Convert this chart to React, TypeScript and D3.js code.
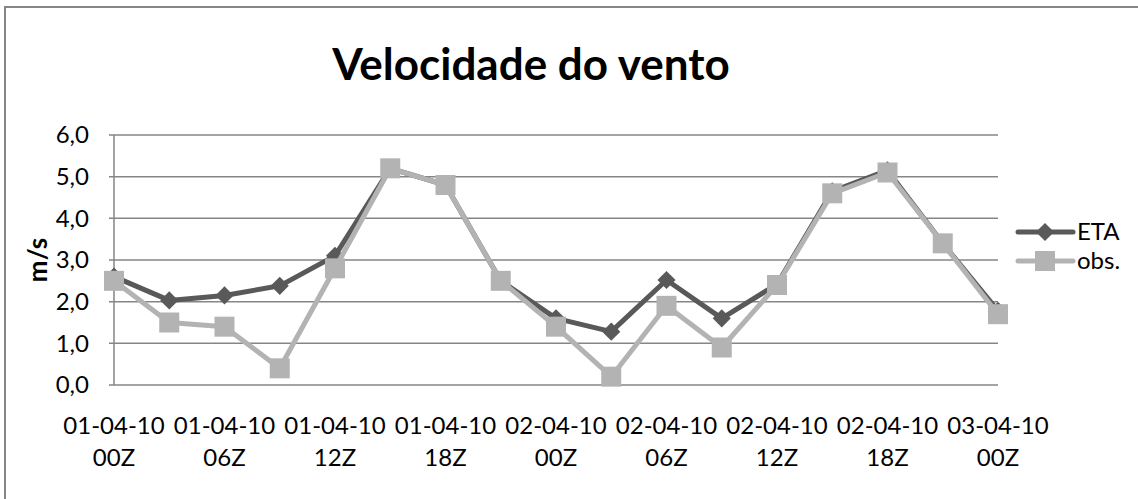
import React, { useEffect, useRef } from 'react';
import * as d3 from 'd3';

const categories = [
  '01-04-10 00Z', '01-04-10 03Z', '01-04-10 06Z', '01-04-10 09Z', '01-04-10 12Z',
  '01-04-10 15Z', '01-04-10 18Z', '01-04-10 21Z', '02-04-10 00Z', '02-04-10 03Z',
  '02-04-10 06Z', '02-04-10 09Z', '02-04-10 12Z', '02-04-10 15Z', '02-04-10 18Z',
  '02-04-10 21Z', '03-04-10 00Z',
];
const eta = [2.6, 2.03, 2.15, 2.38, 3.1, 5.2, 4.8, 2.5, 1.6, 1.28, 2.52, 1.6, 2.42, 4.65, 5.15, 3.4, 1.78];
const obs = [2.5, 1.5, 1.4, 0.4, 2.8, 5.2, 4.8, 2.5, 1.4, 0.2, 1.9, 0.9, 2.4, 4.6, 5.1, 3.4, 1.7];
const yTicks = [0, 1, 2, 3, 4, 5, 6];

const FONT = 'Lato, Carlito, Calibri, sans-serif';

const App = () => {
  const ref = useRef<SVGSVGElement>(null);

  useEffect(() => {
    const svg = d3.select(ref.current);
    svg.selectAll('*').remove();

    const left = 114,
      right = 998,
      top = 135,
      bottom = 385;

    const x = d3.scalePoint<string>().domain(categories).range([left, right]);
    const y = d3.scaleLinear().domain([0, 6]).range([bottom, top]);

    // chart frame
    svg
      .append('rect')
      .attr('x', 5)
      .attr('y', 7)
      .attr('width', 1160)
      .attr('height', 520)
      .attr('fill', 'white')
      .attr('stroke', '#868686')
      .attr('stroke-width', 2);

    // title
    svg
      .append('text')
      .attr('x', 531)
      .attr('y', 80)
      .attr('text-anchor', 'middle')
      .style('font-family', FONT)
      .style('font-weight', 'bold')
      .style('font-size', '44px')
      .text('Velocidade do vento');

    // gridlines
    svg
      .append('g')
      .selectAll('line')
      .data(yTicks)
      .join('line')
      .attr('x1', left - 5)
      .attr('x2', right)
      .attr('y1', (d) => y(d))
      .attr('y2', (d) => y(d))
      .attr('stroke', '#868686')
      .attr('stroke-width', 1.5);

    // axis line
    svg
      .append('line')
      .attr('x1', left)
      .attr('x2', left)
      .attr('y1', top)
      .attr('y2', bottom)
      .attr('stroke', '#868686')
      .attr('stroke-width', 1.5);

    // y tick labels
    svg
      .append('g')
      .selectAll('text')
      .data(yTicks)
      .join('text')
      .attr('x', 89)
      .attr('y', (d) => y(d))
      .attr('dy', '0.35em')
      .attr('text-anchor', 'end')
      .style('font-family', FONT)
      .style('font-size', '24px')
      .text((d) => d3.format('.1f')(d).replace('.', ','));

    // y axis title
    svg
      .append('text')
      .attr('transform', 'translate(47,260)rotate(-90)')
      .attr('text-anchor', 'middle')
      .style('font-family', FONT)
      .style('font-weight', 'bold')
      .style('font-size', '26px')
      .text('m/s');

    // x labels, every other category
    const xl = svg
      .append('g')
      .selectAll('text')
      .data(categories.filter((_, i) => i % 2 === 0))
      .join('text')
      .attr('text-anchor', 'middle')
      .style('font-family', FONT)
      .style('font-size', '24px');
    xl.append('tspan')
      .attr('x', (d) => x(d))
      .attr('y', 434)
      .text((d) => d.split(' ')[0]);
    xl.append('tspan')
      .attr('x', (d) => x(d))
      .attr('y', 466)
      .text((d) => d.split(' ')[1]);

    const line = d3
      .line<number>()
      .x((_, i) => x(categories[i]))
      .y((d) => y(d));

    const diamond = d3.symbol().type(d3.symbolDiamond2).size(210);
    const etaColor = '#595959',
      obsColor = '#b3b3b3';

    // ETA series
    svg
      .append('path')
      .datum(eta)
      .attr('d', line)
      .attr('fill', 'none')
      .attr('stroke', etaColor)
      .attr('stroke-width', 5)
      .attr('stroke-linejoin', 'round');
    svg
      .append('g')
      .selectAll('path')
      .data(eta)
      .join('path')
      .attr('transform', (d, i) => `translate(${x(categories[i])},${y(d)})`)
      .attr('d', diamond)
      .attr('fill', etaColor);

    // obs series
    svg
      .append('path')
      .datum(obs)
      .attr('d', line)
      .attr('fill', 'none')
      .attr('stroke', obsColor)
      .attr('stroke-width', 5)
      .attr('stroke-linejoin', 'round');
    svg
      .append('g')
      .selectAll('rect')
      .data(obs)
      .join('rect')
      .attr('x', (d, i) => x(categories[i]) - 10)
      .attr('y', (d) => y(d) - 10)
      .attr('width', 20)
      .attr('height', 20)
      .attr('fill', obsColor);

    // legend
    const legend = [
      { name: 'ETA', color: etaColor, ly: 232 },
      { name: 'obs.', color: obsColor, ly: 261 },
    ];
    legend.forEach((l, k) => {
      svg
        .append('line')
        .attr('x1', 1018)
        .attr('x2', 1073)
        .attr('y1', l.ly)
        .attr('y2', l.ly)
        .attr('stroke', l.color)
        .attr('stroke-width', 5)
        .attr('stroke-linecap', 'round');
      if (k === 0) {
        svg
          .append('path')
          .attr('transform', `translate(1045,${l.ly})`)
          .attr('d', diamond)
          .attr('fill', l.color);
      } else {
        svg
          .append('rect')
          .attr('x', 1035)
          .attr('y', l.ly - 10)
          .attr('width', 20)
          .attr('height', 20)
          .attr('fill', l.color);
      }
      svg
        .append('text')
        .attr('x', 1077)
        .attr('y', l.ly)
        .attr('dy', '0.35em')
        .style('font-family', FONT)
        .style('font-size', '24px')
        .text(l.name);
    });
  }, []);

  return (
    <svg
      ref={ref}
      width={1138}
      height={499}
      style={{ position: 'absolute', left: 0, top: 0, background: 'white' }}
    />
  );
};

export default App;
